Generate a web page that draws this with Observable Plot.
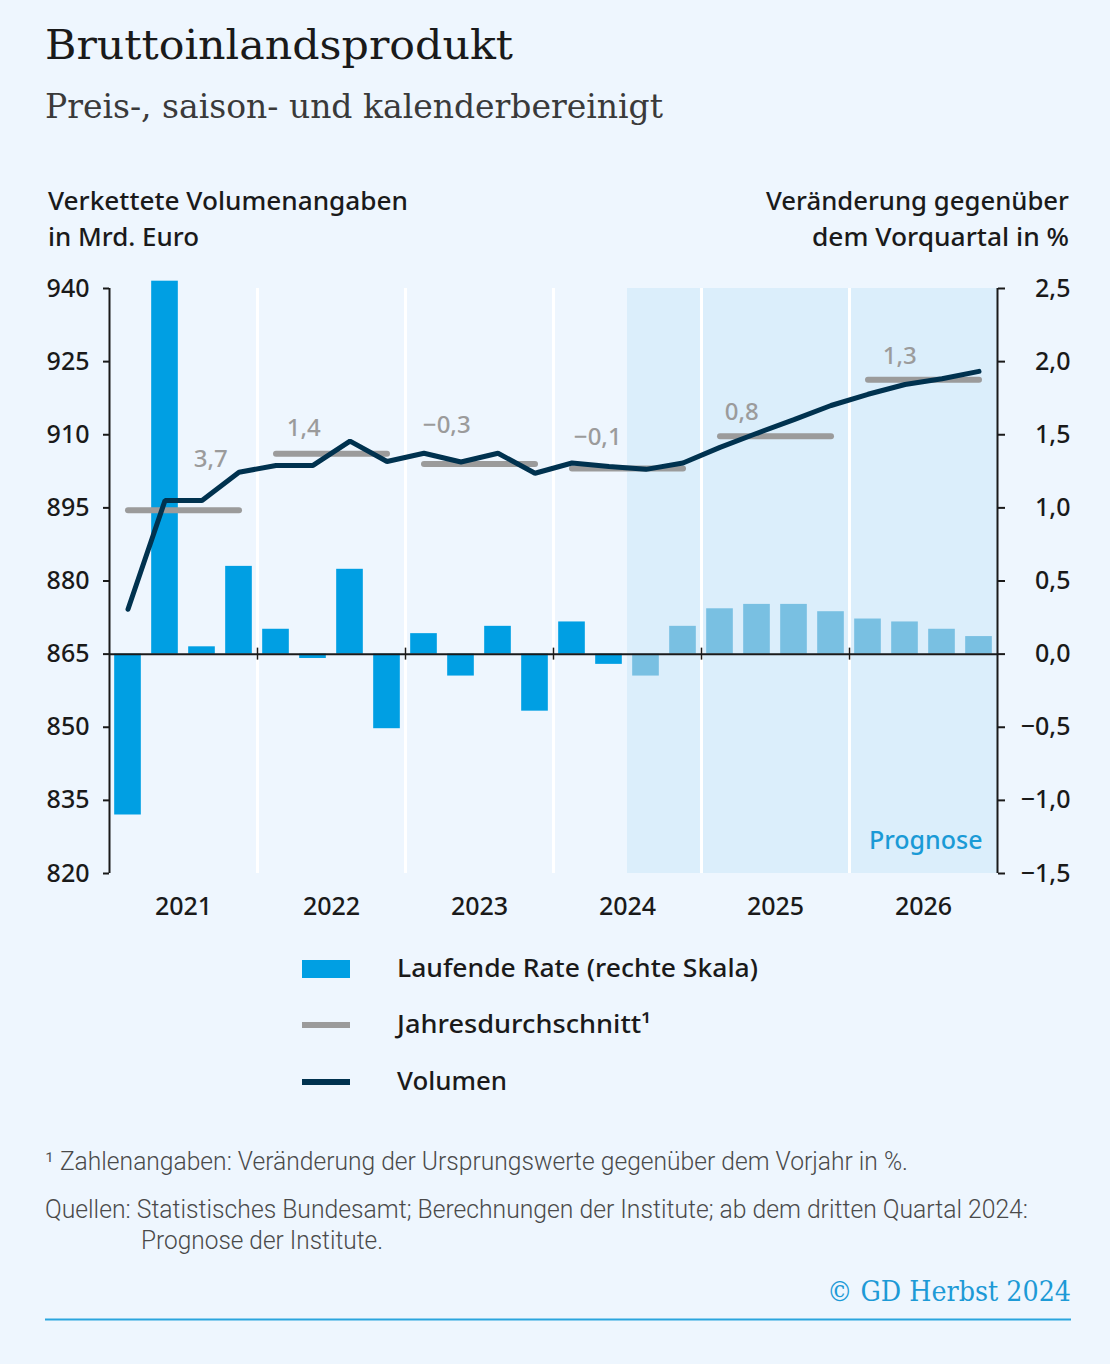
<!DOCTYPE html>
<html><head><meta charset="utf-8">
<script src="https://cdn.jsdelivr.net/npm/d3@7"></script>
<script src="https://cdn.jsdelivr.net/npm/@observablehq/plot@0.6"></script>
<style>
html,body{margin:0;padding:0;background:#eef6fe;}
#page{position:relative;width:1110px;height:1364px;background:#eef6fe;overflow:hidden;}
#chart{position:absolute;left:0;top:270px;}
#overlay{position:absolute;left:0;top:0;}
</style></head>
<body><div id="page"><svg id="overlay" width="1110" height="1364"></svg><div id="chart"></div></div>
<script>
// ---------- data ----------
const years = [2021, 2022, 2023, 2024, 2025, 2026];
const quarters = years.flatMap(y => ["Q1", "Q2", "Q3", "Q4"].map(q => `${y} ${q}`));
const forecastFrom = "2024 Q3";
// Laufende Rate, % gegenüber Vorquartal (rechte Skala)
const rates = [-1.1, 2.55, 0.05, 0.6, 0.17, -0.03, 0.58, -0.51, 0.14, -0.15, 0.19, -0.39,
               0.22, -0.07, -0.15, 0.19, 0.31, 0.34, 0.34, 0.29, 0.24, 0.22, 0.17, 0.12];
// Volumen, Mrd. Euro (linke Skala)
const volumen = [874.2, 896.5, 896.5, 902.3, 903.7, 903.7, 908.7, 904.5, 906.2, 904.4, 906.2, 902.1,
                 904.2, 903.5, 902.9, 904.2, 907.4, 910.3, 913.1, 916.0, 918.3, 920.3, 921.5, 923.0];
// Jahresdurchschnitt (Niveau, linke Skala) und Veränderung gegenüber Vorjahr
const avgLevel = [894.5, 906.1, 904.0, 903.1, 909.7, 921.3];
const avgLabels = ["3,7", "1,4", "−0,3", "−0,1", "0,8", "1,3"];
const leftTicks = [820, 835, 850, 865, 880, 895, 910, 925, 940];
const rightTicks = [-1.5, -1.0, -0.5, 0.0, 0.5, 1.0, 1.5, 2.0, 2.5];

// dual-axis link: rate 0 % ↔ 865, 1 % ↔ 30 Mrd.
const ZERO = 865, PER = 30;
const toLeft = r => ZERO + PER * r;
const fmtPct = v => { const s = Math.abs(v).toFixed(1).replace(".", ","); return (v < -1e-9 ? "−" : "") + s; };

const fcIndex = quarters.indexOf(forecastFrom);
const bars = quarters.map((q, i) => ({i, q, r: rates[i], fc: i >= fcIndex}));
const line = quarters.map((q, i) => ({i, v: volumen[i]}));
const avgs = years.map((y, k) => ({k, y, v: avgLevel[k], label: avgLabels[k]}));

// label placement nudges (px)
const labelDx = [55, 0, -5, -2, -6, 4];
const labelDy = [-51, -25, -39, -31, -24, -23];

const SANS = "'Noto Sans', 'Open Sans', sans-serif";
const INK = "#1a1a1a";

const chart = Plot.plot({
  width: 1110, height: 660,
  marginLeft: 109, marginRight: 113, marginTop: 18, marginBottom: 57,
  style: {background: "transparent", fontFamily: SANS, fontSize: "25px", fontWeight: 500, color: INK},
  x: {domain: [0, 24], axis: null},
  y: {domain: [820, 940], axis: null},
  marks: [
    Plot.rect([0], {x1: fcIndex, x2: 24, y1: 820, y2: 940, fill: "#dbeefb"}),
    Plot.ruleX([4, 8, 12, 16, 20], {y1: 820, y2: 940, stroke: "#ffffff", strokeWidth: 3}),
    Plot.rectY(bars, {x1: d => d.i + 0.14, x2: d => d.i + 0.86, y1: ZERO, y2: d => toLeft(d.r),
      fill: d => d.fc ? "#79c0e2" : "#009fe3"}),
    Plot.ruleY([ZERO], {x1: 0, x2: 24, stroke: INK, strokeWidth: 2}),
    Plot.ruleX([4, 8, 12, 16, 20], {y1: ZERO, y2: ZERO, insetTop: -6, insetBottom: -6, stroke: INK, strokeWidth: 1.5}),
    Plot.link(avgs, {x1: d => d.k * 4 + 0.5, x2: d => d.k * 4 + 3.5, y1: "v", y2: "v",
      stroke: "#9b9b9b", strokeWidth: 6, strokeLinecap: "round"}),
    Plot.line(line, {x: d => d.i + 0.5, y: "v", stroke: "#00324f", strokeWidth: 5, strokeLinejoin: "miter"}),
    Plot.text(avgs, {x: d => d.k * 4 + 1.25, y: "v", text: "label", fill: "#9b9b9b",
      fontSize: 24, fontWeight: 500, textAnchor: "middle"}),
    Plot.text(["Prognose"], {frameAnchor: "bottom-right", dx: -15, dy: -25, fill: "#1a9ad6", fontSize: 25, fontWeight: 500}),
    Plot.ruleX([0], {y1: 820, y2: 940, stroke: INK, strokeWidth: 2}),
    Plot.ruleX([24], {y1: 820, y2: 940, stroke: INK, strokeWidth: 2}),
    Plot.axisY(leftTicks, {anchor: "left", label: null, tickSize: 6, tickPadding: 14, tickFormat: d => String(d), strokeWidth: 2}),
    Plot.axisY(rightTicks.map(toLeft), {anchor: "right", label: null, tickSize: 7, tickPadding: 66, textAnchor: "end",
      tickFormat: v => fmtPct((v - ZERO) / PER), strokeWidth: 2}),
    Plot.axisX(years.map((y, k) => k * 4 + 2), {anchor: "bottom", label: null, tickSize: 0, tickPadding: 24,
      tickFormat: x => String(years[Math.round((x - 2) / 4)])})
  ]
});
document.getElementById("chart").appendChild(chart);

// apply per-label nudges to the annual-average labels (first text group)
{
  const textGroups = chart.querySelectorAll("g[aria-label='text']");
  const lbls = textGroups[0].querySelectorAll("text");
  lbls.forEach((t, k) => {
    const tr = t.getAttribute("transform") || "";
    t.setAttribute("transform", tr + ` translate(${labelDx[k]},${labelDy[k]})`);
  });
}

// ---------- header, legend, footer ----------
const svg = d3.select("#overlay");
const SERIF = "'DejaVu Serif', serif";
function txt(x, y, s, o = {}) {
  const t = svg.append("text").attr("x", x).attr("y", y)
    .attr("font-family", o.family || SANS).attr("font-size", o.size || 25)
    .attr("font-weight", o.weight || 500).attr("fill", o.fill || INK)
    .attr("text-anchor", o.anchor || "start").text(s);
  if (o.w) t.attr("textLength", o.w).attr("lengthAdjust", "spacingAndGlyphs");
  return t;
}
txt(45, 59, "Bruttoinlandsprodukt", {family: SERIF, size: 41, weight: 400, w: 468});
txt(45, 118, "Preis-, saison- und kalenderbereinigt", {family: SERIF, size: 33, weight: 300, fill: "#3a3a3a", w: 618});

txt(48, 210, "Verkettete Volumenangaben", {w: 360});
txt(48, 246, "in Mrd. Euro", {w: 151});
txt(1069, 210, "Veränderung gegenüber", {anchor: "end", w: 303});
txt(1069, 246, "dem Vorquartal in %", {anchor: "end", w: 257});

svg.append("rect").attr("x", 302).attr("y", 960).attr("width", 48).attr("height", 18).attr("fill", "#009fe3");
svg.append("rect").attr("x", 302).attr("y", 1022).attr("width", 48).attr("height", 6).attr("fill", "#9b9b9b");
svg.append("rect").attr("x", 302).attr("y", 1079).attr("width", 48).attr("height", 6).attr("fill", "#00324f");
txt(397, 977, "Laufende Rate (rechte Skala)", {w: 361});
txt(397, 1033, "Jahresdurchschnitt¹", {w: 254});
txt(397, 1090, "Volumen", {w: 110});

const FOOT = "'Roboto', 'Noto Sans', sans-serif";
txt(45, 1170, "¹ Zahlenangaben: Veränderung der Ursprungswerte gegenüber dem Vorjahr in %.", {family: FOOT, size: 25, weight: 300, fill: "#4a4a4a", w: 863});
txt(45, 1218, "Quellen: Statistisches Bundesamt; Berechnungen der Institute; ab dem dritten Quartal 2024:", {family: FOOT, size: 25, weight: 300, fill: "#4a4a4a", w: 983});
txt(141, 1249, "Prognose der Institute.", {family: FOOT, size: 25, weight: 300, fill: "#4a4a4a", w: 242});
txt(1071, 1301, "© GD Herbst 2024", {family: SERIF, size: 28, weight: 400, fill: "#1d9ad6", anchor: "end", w: 244});
svg.append("line").attr("x1", 45).attr("x2", 1071).attr("y1", 1319.5).attr("y2", 1319.5).attr("stroke", "#2aa5de").attr("stroke-width", 2);
</script>
</body></html>
